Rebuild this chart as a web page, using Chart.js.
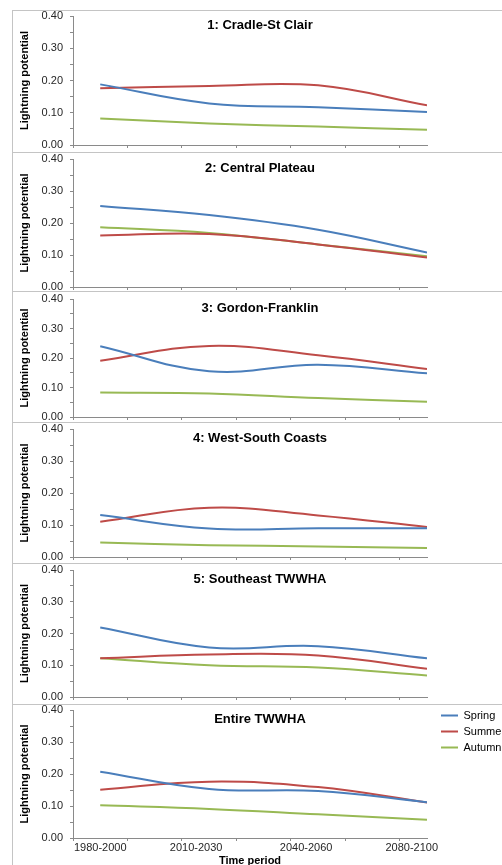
<!DOCTYPE html>
<html>
<head>
<meta charset="utf-8">
<script src="https://cdn.jsdelivr.net/npm/chart.js@4"></script>
<style>
  html, body { margin: 0; padding: 0; background: #fff; }
  body { width: 502px; height: 865px; overflow: hidden; position: relative; font-family: 'Liberation Sans', Arial, sans-serif; }
  .panel { position: absolute; left: 12px; width: 540px; border-top: 1px solid #c4c4c4; border-left: 1px solid #c4c4c4; }
  .panel canvas { position: absolute; left: 0; top: 0; }
  .ptitle { position: absolute; left: 140px; width: 240px; text-align: center; font-weight: bold; font-size: 13px; line-height: 15px; color: #000; }
</style>
</head>
<body>
<script>
// data (four periods per region)
const periods = ['1980-2000', '2010-2030', '2040-2060', '2080-2100'];
const regions = ['1: Cradle-St Clair', '2: Central Plateau', '3: Gordon-Franklin',
                 '4: West-South Coasts', '5: Southeast TWWHA', 'Entire TWWHA'];
const spring = [
  [0.188, 0.129, 0.117, 0.102],
  [0.253, 0.225, 0.179, 0.108],
  [0.240, 0.155, 0.177, 0.148],
  [0.131, 0.089, 0.090, 0.090],
  [0.219, 0.156, 0.160, 0.122],
  [0.207, 0.153, 0.147, 0.112]
];
const summer = [
  [0.176, 0.183, 0.185, 0.123],
  [0.161, 0.166, 0.133, 0.092],
  [0.191, 0.241, 0.209, 0.163],
  [0.110, 0.154, 0.130, 0.094],
  [0.122, 0.134, 0.131, 0.089],
  [0.151, 0.176, 0.159, 0.111]
];
const autumn = [
  [0.082, 0.067, 0.057, 0.047],
  [0.187, 0.169, 0.133, 0.096],
  [0.083, 0.080, 0.064, 0.052],
  [0.045, 0.037, 0.033, 0.028],
  [0.122, 0.100, 0.093, 0.068],
  [0.102, 0.091, 0.074, 0.057]
];

// layout of the stacked panels (page px)
const boxTop = [10, 152, 291, 422, 563, 704];
const plotTop = [16, 159, 299, 429, 570, 710];
const plotBottom = [145, 287, 417, 557, 697, 838];
const xTickAt = [0.75, 1.25, 1.75, 2.25, 2.75, 3.25, 3.75];
const periodAt = [1.0, 1.88, 2.89, 3.86];

const series = [
  { label: 'Spring', values: spring, color: '#4a7ebb' },
  { label: 'Summer', values: summer, color: '#be4b48' },
  { label: 'Autumn', values: autumn, color: '#98b954' }
];

Chart.defaults.font.family = "'Liberation Sans', Arial, sans-serif";
Chart.defaults.font.size = 11;
Chart.defaults.color = '#262626';

const axisGrey = '#8a8a8a';
const W = 520;
const legendW = 76;
const last = regions.length - 1;

regions.forEach((name, i) => {
  const top = boxTop[i];
  const h = (i < last ? boxTop[i + 1] : 880) - top - 1;
  const areaTop = plotTop[i] - top - 1;
  const areaBottom = plotBottom[i] - top - 1;

  const panel = document.createElement('div');
  panel.className = 'panel';
  panel.style.top = top + 'px';
  panel.style.height = h + 'px';
  const canvas = document.createElement('canvas');
  canvas.width = W;
  canvas.height = h;
  panel.appendChild(canvas);
  document.body.appendChild(panel);

  const title = document.createElement('div');
  title.className = 'ptitle';
  title.textContent = name;
  title.style.top = (plotTop[i] + 1) + 'px';
  document.body.appendChild(title);

  const isLast = i === last;
  const scales = {
    x: {
      type: 'linear', min: 0.75, max: 4,
      afterBuildTicks: s => { s.ticks = xTickAt.map(v => ({ value: v })); },
      ticks: { display: false },
      grid: { drawOnChartArea: false, tickLength: 3, color: axisGrey },
      border: { color: axisGrey }
    },
    xt: {
      type: 'linear', position: 'top', min: 0, max: 1,
      ticks: { display: false }, grid: { display: false }, border: { display: false },
      afterFit: s => { s.height = areaTop; }
    },
    y: {
      min: 0, max: 0.4,
      ticks: {
        stepSize: 0.05, padding: 7, autoSkip: false,
        callback: v => Math.round(v * 100) % 10 === 0 ? v.toFixed(2) : ''
      },
      grid: { drawOnChartArea: false, tickLength: 3, color: axisGrey },
      border: { color: axisGrey },
      title: { display: true, text: 'Lightning potential', color: '#000',
               font: { weight: 'bold', size: 11 }, padding: { top: 5, bottom: 0 } },
      afterFit: s => { s.width = 60; s.paddingTop = 0; s.paddingBottom = 0; }
    }
  };

  let padBottom = h - areaBottom - 3;
  let padRight = W - 414;
  if (isLast) {
    scales.xl = {
      type: 'linear', position: 'bottom', min: 0.75, max: 4,
      afterBuildTicks: s => { s.ticks = periodAt.map(v => ({ value: v })); },
      ticks: { autoSkip: false, maxRotation: 0, padding: 0, callback: (v, k) => periods[k] },
      grid: { display: false, drawTicks: false },
      border: { display: false },
      title: { display: true, text: 'Time period', color: '#000',
               font: { weight: 'bold', size: 11 }, padding: 0 },
      afterFit: s => { s.paddingLeft = 0; s.paddingRight = 0; }
    };
    scales.yr = {
      type: 'linear', position: 'right',
      ticks: { display: false }, grid: { display: false }, border: { display: false },
      afterFit: s => { s.width = 9; }
    };
    padBottom -= 26.4;
    padRight -= 9 + legendW;
  }

  new Chart(canvas, {
    type: 'line',
    data: {
      datasets: series.map(s => ({
        label: s.label,
        data: s.values[i].map((v, k) => ({ x: k + 1, y: v })),
        borderColor: s.color,
        backgroundColor: s.color,
        borderWidth: 2,
        tension: 0.4,
        pointRadius: 0,
        fill: false,
        xAxisID: 'x',
        yAxisID: 'y'
      }))
    },
    options: {
      responsive: false,
      animation: false,
      devicePixelRatio: 1,
      layout: { padding: { top: 0, left: 0, right: padRight, bottom: padBottom } },
      plugins: {
        title: { display: false },
        tooltip: { enabled: false },
        legend: {
          display: isLast, position: 'right', align: 'start', maxWidth: legendW,
          labels: { usePointStyle: true, pointStyle: 'line', pointStyleWidth: 17,
                    boxHeight: 11, padding: 5, color: '#000', font: { size: 11 } }
        }
      },
      scales: scales
    }
  });
});
</script>
</body>
</html>
